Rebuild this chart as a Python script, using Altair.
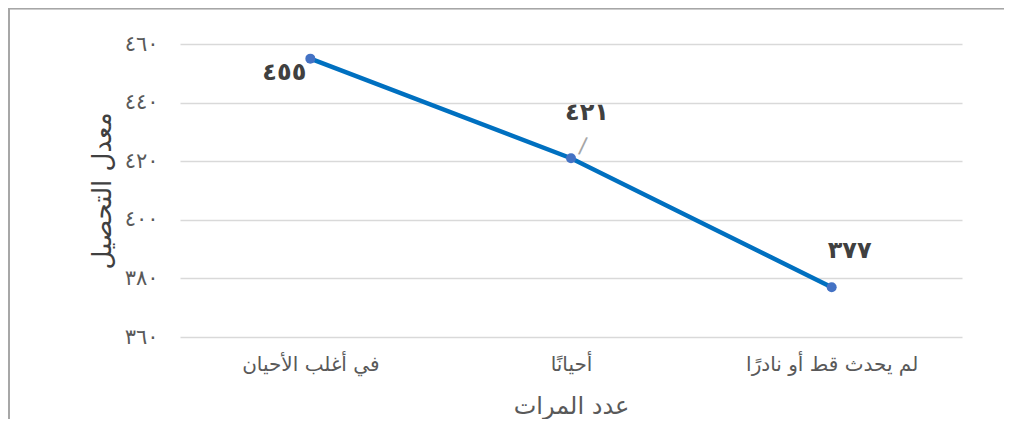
import altair as alt
import pandas as pd

categories = ["في أغلب الأحيان", "أحيانًا", "لم يحدث قط أو نادرًا"]
values = [455, 421, 377]
value_labels = ["٤٥٥", "٤٢١", "٣٧٧"]
y_ticks = [360, 380, 400, 420, 440, 460]
y_tick_labels = ["٣٦٠", "٣٨٠", "٤٠٠", "٤٢٠", "٤٤٠", "٤٦٠"]

df = pd.DataFrame({"cat": categories, "val": values, "lbl": value_labels})

label_expr = "{" + ",".join(f"'{t}':'{l}'" for t, l in zip(y_ticks, y_tick_labels)) + "}[datum.value]"

FONT = "DejaVu Sans"

x_enc = alt.X("cat:N", sort=categories, title="عدد المرات",
              scale=alt.Scale(paddingInner=0, paddingOuter=0),
              axis=alt.Axis(labelAngle=0, labelFontSize=20, labelColor="#595959",
                            labelPadding=17, titleFontSize=24, titleColor="#595959",
                            titleFontWeight="normal", titlePadding=20,
                            ticks=False, domain=False, grid=False, labelFont=FONT, titleFont=FONT))
y_enc = alt.Y("val:Q", title="معدل التحصيل",
              scale=alt.Scale(domain=[360, 460], nice=False, zero=False),
              axis=alt.Axis(values=y_ticks, labelExpr=label_expr, labelFontSize=21,
                            labelColor="#595959", labelPadding=22, titleFontSize=26,
                            titleColor="#404040", titleFontWeight="normal", titlePadding=9,
                            ticks=False, domain=False, gridColor="#d9d9d9", gridWidth=1.5,
                            labelFont=FONT, titleFont=FONT))

base = alt.Chart(df).encode(x=x_enc, y=y_enc)

line = base.mark_line(color="#0070C0", strokeWidth=4.5)
pts = base.mark_point(filled=True, color="#4472C4", size=100, opacity=1)

offsets = {categories[0]: (-26, 14), categories[1]: (16, -45), categories[2]: (18, -36)}
texts = []
for c in categories:
    dx, dy = offsets[c]
    texts.append(
        base.transform_filter(alt.datum.cat == c)
        .mark_text(fontSize=24, fontWeight="bold", color="#404040", dx=dx, dy=dy, font=FONT)
        .encode(text="lbl:N")
    )

leader_line = alt.Chart(df).transform_filter(alt.datum.cat == categories[1]).mark_text(
    text="/", fontSize=22, color="#a6a6a6", dx=10, dy=-14, font=FONT, angle=8
).encode(x=alt.X("cat:N", sort=categories), y=alt.Y("val:Q"))

frame_top = alt.Chart(df).mark_rule(color="#a6a6a6", strokeWidth=1.5).encode(
    x=alt.value(-172), x2=alt.value(830), y=alt.value(-35.5))
frame_left = alt.Chart(df).mark_rule(color="#a6a6a6", strokeWidth=1.5).encode(
    x=alt.value(-171), y=alt.value(-36), y2=alt.value(400))

chart = alt.layer(frame_top, frame_left, line, leader_line, pts, *texts).properties(
    width=782, height=293,
    autosize=alt.AutoSizeParams(type="none"),
    padding={"left": 172, "top": 36, "right": 42, "bottom": 82},
).configure(background="white").configure_view(strokeWidth=0, stroke="transparent")

chart.save("out.html", embed_options={"renderer": "svg", "actions": False})
